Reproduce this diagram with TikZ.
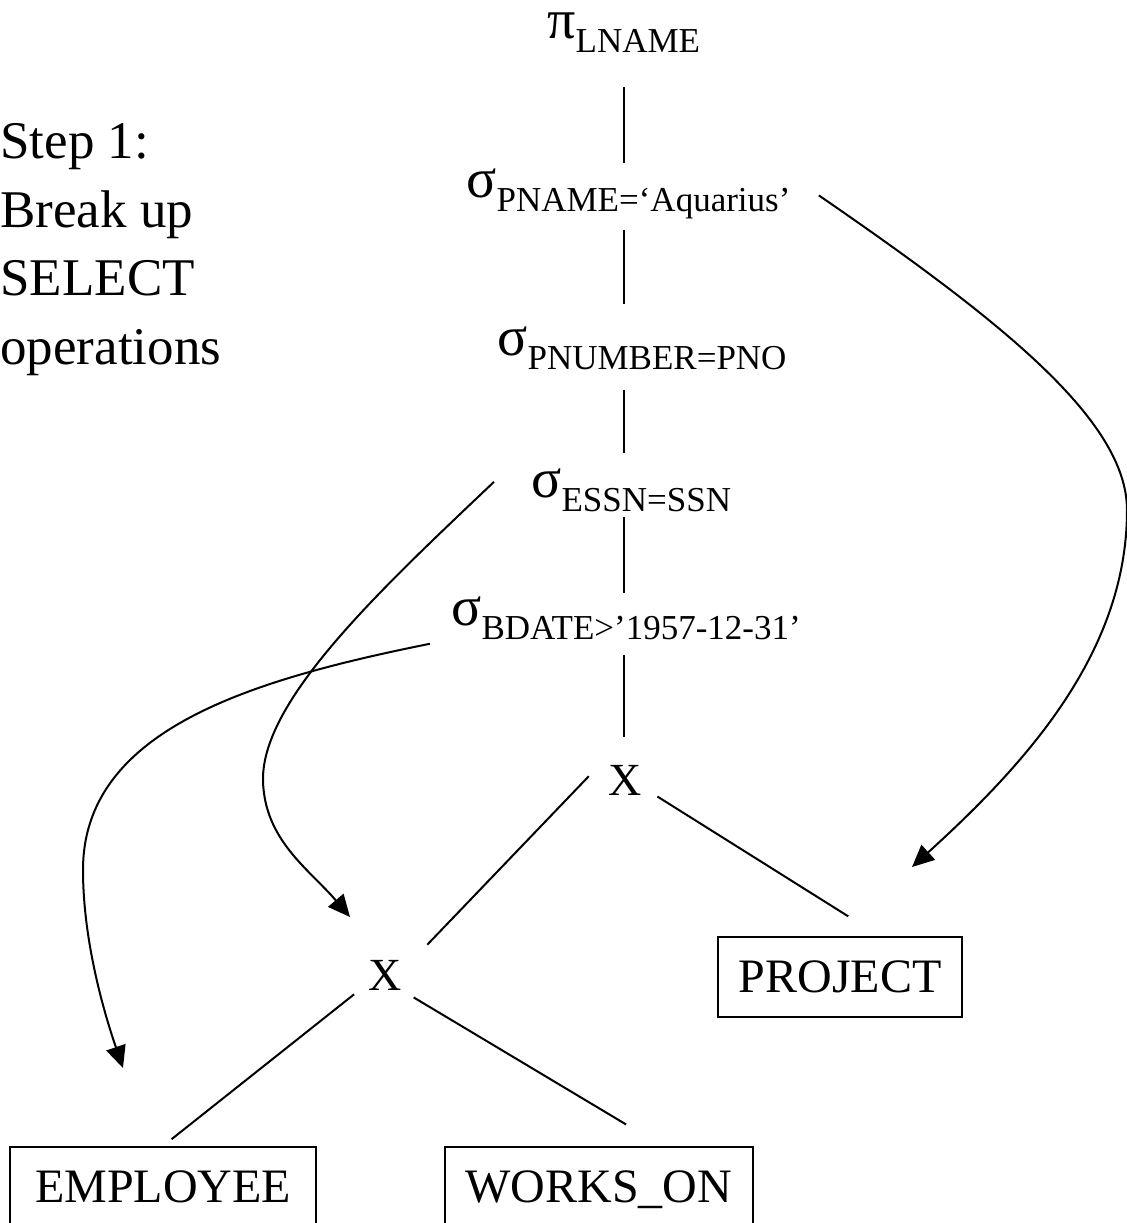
\documentclass[tikz,border=0pt]{standalone}
\usepackage{fontspec}
\setmainfont{Liberation Serif}
\usetikzlibrary{arrows.meta,calc}
\newcommand{\opsub}[2]{{\fontsize{28}{32}\selectfont #1}\raisebox{-7pt}{\fontsize{17.5}{20}\selectfont #2}}
\tikzset{
  oplabel/.style={inner sep=0pt, anchor=base west},
  xnode/.style={circle, inner sep=0pt, minimum size=36pt, font=\fontsize{23}{27}\selectfont},
  relbox/.style={rectangle, draw, line width=1pt, inner sep=0pt, minimum height=40pt,
                 text height=15.8pt, text depth=0pt, font=\fontsize{24}{29}\selectfont},
  note/.style={inner sep=0pt, anchor=north west, align=left, font=\fontsize{26.5}{34.3}\selectfont},
  tie/.style={line width=1pt},
  push/.style={-{Triangle[length=11pt,width=10pt]}, line width=1pt}
}
\begin{document}
\begin{tikzpicture}[x=0.5pt, y=-0.5pt]
 \useasboundingbox (0,0) rectangle (1127,1223);
 \coordinate (spine) at (624,0);
 \node[note] (step) at (0,123) {Step 1:\\Break up\\SELECT\\operations};
 \node[oplabel] (proj) at (547,38) {\opsub{π}{LNAME}};
 \node[oplabel] (selname) at (466,197) {\opsub{σ}{PNAME=‘Aquarius’}};
 \node[oplabel] (selnum) at (497,355) {\opsub{σ}{PNUMBER=PNO}};
 \node[oplabel] (selssn) at (531,497) {\opsub{σ}{ESSN=SSN}};
 \node[oplabel] (seldate) at (451,625) {\opsub{σ}{BDATE>’1957-12-31’}};
 \node[xnode] (crossA) at (625,780) {X};
 \node[xnode] (crossB) at (385,975) {X};
 \node[relbox, minimum width=122pt] (project) at (840,977) {PROJECT};
 \node[relbox, minimum width=153pt] (employee) at (163,1187) {EMPLOYEE};
 \node[relbox, minimum width=154pt] (workson) at (599,1187) {WORKS\_ON};
 \coordinate (dropProj) at (912,867);
 \coordinate (dropX) at (350,917);
 \coordinate (dropEmp) at (123,1068);
 \draw[tie, shorten <=17.5pt, shorten >=2.5pt] (proj.south -| spine) -- (selname.north -| spine);
 \draw[tie, shorten <=5.5pt, shorten >=11pt] (selname.south -| spine) -- (selnum.north -| spine);
 \draw[tie, shorten <=10pt, shorten >=7.5pt] (selnum.south -| spine) -- (selssn.north -| spine);
 \draw[tie, shorten <=2.5pt, shorten >=1.5pt] (selssn.south -| spine) -- (seldate.north -| spine);
 \draw[tie, shorten <=7.5pt, shorten >=3.5pt] (seldate.south -| spine) -- (crossA.north -| spine);
 \draw[tie, shorten >=8pt] (crossA.174) -- (crossB.31);
 \draw[tie, shorten >=18.5pt] (crossA.-27) -- (project.46);
 \draw[tie, shorten >=5.5pt] (crossB.212) -- (employee.north);
 \draw[tie, shorten >=21pt] (crossB.-38) -- (workson.33);
 \draw[push] ($(selname.east)+(28,2)$) .. controls (1000,320) and (1127,420) .. (1127,510)
   .. controls (1127,650) and (1030,760) .. (dropProj);
 \draw[push] ($(selssn.west)+(-37,-8)$) .. controls (380,590) and (262,700) .. (263,780)
   .. controls (264,840) and (310,870) .. (dropX);
 \draw[push] ($(seldate.south west)+(-21,4)$) .. controls (250,680) and (83,730) .. (83,870)
   .. controls (83,950) and (110,1030) .. (dropEmp);
\end{tikzpicture}
\end{document}
